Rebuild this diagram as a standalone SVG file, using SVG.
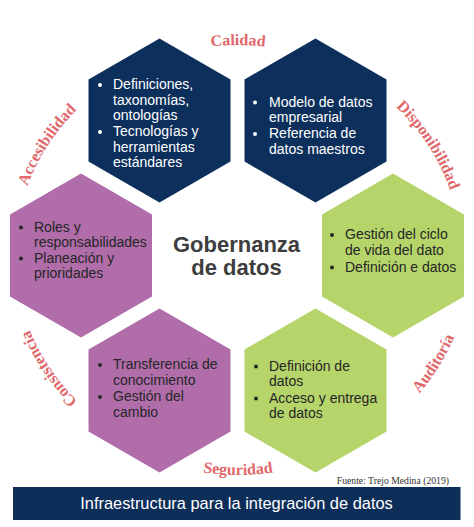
<svg xmlns="http://www.w3.org/2000/svg" xmlns:xlink="http://www.w3.org/1999/xlink" width="474" height="527" viewBox="0 0 474 527">
<style>
.navy{fill:#0C2F5C}
.purple{fill:#B06DAA}
.green{fill:#B5D46A}
.t{font-family:"Liberation Sans",Arial,sans-serif;font-size:14px}
.tw{fill:#FFFFFF}
.td{fill:#262626}
.arc{font-family:"Liberation Serif","Times New Roman",serif;font-size:16px;font-weight:bold;fill:#E0676A}
.title{font-family:"Liberation Sans",Arial,sans-serif;font-size:22px;font-weight:bold;fill:#3D3D3D}
</style>
<defs>
<polygon id="hex" points="0,-82 71,-41 71,41 0,82 -71,41 -71,-41"/>
<path id="pCal" d="M110.1,83 A223,210 0 0 1 365.9,83" fill="none"/>
<path id="pAcc" d="M15.5,269.7 A223,210 0 0 1 147.3,63.2" fill="none"/>
<path id="pDis" d="M328.7,63.2 A223,210 0 0 1 460.5,269.7" fill="none"/>
<path id="pCon" d="M150.9,448.3 A223,210 0 0 1 15.3,244" fill="none"/>
<path id="pSeg" d="M104.4,435.2 A233,220 0 0 0 371.6,435.2" fill="none"/>
<path id="pAud" d="M336.5,454.4 A233,220 0 0 0 470.1,235.8" fill="none"/>
</defs>
<rect width="474" height="527" fill="#FFFFFF"/>

<g id="labels">
<text class="arc"><textPath xlink:href="#pCal" href="#pCal" startOffset="50%" text-anchor="middle">Calidad</textPath></text>
<text class="arc"><textPath xlink:href="#pAcc" href="#pAcc" startOffset="50%" text-anchor="middle">Accesibilidad</textPath></text>
<text class="arc"><textPath xlink:href="#pDis" href="#pDis" startOffset="50%" text-anchor="middle">Disponibilidad</textPath></text>
<text class="arc"><textPath xlink:href="#pCon" href="#pCon" startOffset="50%" text-anchor="middle">Consistencia</textPath></text>
<text class="arc"><textPath xlink:href="#pSeg" href="#pSeg" startOffset="50%" text-anchor="middle">Seguridad</textPath></text>
<text class="arc"><textPath xlink:href="#pAud" href="#pAud" startOffset="50%" text-anchor="middle">Auditoría</textPath></text>
</g>

<g id="hex-top-left">
<use href="#hex" xlink:href="#hex" class="navy" x="159.5" y="120.5"/>
<circle cx="100" cy="85" r="2" fill="#FFFFFF"/>
<circle cx="100" cy="132" r="2" fill="#FFFFFF"/>
<text class="t tw" x="113" y="89">Definiciones,</text>
<text class="t tw" x="113" y="104.5">taxonomías,</text>
<text class="t tw" x="113" y="120">ontologías</text>
<text class="t tw" x="113" y="136">Tecnologías y</text>
<text class="t tw" x="113" y="151.5">herramientas</text>
<text class="t tw" x="113" y="167">estándares</text>
</g>

<g id="hex-top-right">
<use href="#hex" xlink:href="#hex" class="navy" x="315.5" y="120.5"/>
<circle cx="255" cy="102.5" r="2" fill="#FFFFFF"/>
<circle cx="255" cy="134" r="2" fill="#FFFFFF"/>
<text class="t tw" x="269" y="106.5">Modelo de datos</text>
<text class="t tw" x="269" y="122">empresarial</text>
<text class="t tw" x="269" y="138">Referencia de</text>
<text class="t tw" x="269" y="153.5">datos maestros</text>
</g>

<g id="hex-left">
<use href="#hex" xlink:href="#hex" class="purple" x="81" y="255.5"/>
<circle cx="21" cy="227.5" r="2" fill="#262626"/>
<circle cx="21" cy="258.5" r="2" fill="#262626"/>
<text class="t td" x="34" y="231.5">Roles y</text>
<text class="t td" x="34" y="247">responsabilidades</text>
<text class="t td" x="34" y="262.5">Planeación y</text>
<text class="t td" x="34" y="278">prioridades</text>
</g>

<g id="hex-right">
<use href="#hex" xlink:href="#hex" class="green" x="393" y="255.5"/>
<circle cx="332" cy="235" r="2" fill="#262626"/>
<circle cx="332" cy="267.5" r="2" fill="#262626"/>
<text class="t td" x="345" y="239">Gestión del ciclo</text>
<text class="t td" x="345" y="255">de vida del dato</text>
<text class="t td" x="345" y="271.5">Definición e datos</text>
</g>

<g id="hex-bottom-left">
<use href="#hex" xlink:href="#hex" class="purple" x="159.5" y="390.5"/>
<circle cx="100" cy="365" r="2" fill="#262626"/>
<circle cx="100" cy="397" r="2" fill="#262626"/>
<text class="t td" x="113" y="369">Transferencia de</text>
<text class="t td" x="113" y="385">conocimiento</text>
<text class="t td" x="113" y="401">Gestión del</text>
<text class="t td" x="113" y="416.5">cambio</text>
</g>

<g id="hex-bottom-right">
<use href="#hex" xlink:href="#hex" class="green" x="315.5" y="390.5"/>
<circle cx="256" cy="366.5" r="2" fill="#262626"/>
<circle cx="256" cy="398.5" r="2" fill="#262626"/>
<text class="t td" x="269" y="370.5">Definición de</text>
<text class="t td" x="269" y="386">datos</text>
<text class="t td" x="269" y="402.5">Acceso y entrega</text>
<text class="t td" x="269" y="418">de datos</text>
</g>

<g id="center">
<text class="title" x="236.5" y="252" text-anchor="middle">Gobernanza</text>
<text class="title" x="236.5" y="275" text-anchor="middle">de datos</text>
</g>

<g id="source">
<text x="449" y="483.5" text-anchor="end" font-family="Liberation Serif,'Times New Roman',serif" font-size="9.7" fill="#333333">Fuente: Trejo Medina (2019)</text>
</g>

<g id="banner">
<rect x="13" y="487" width="447.5" height="33" fill="#0E2E5A"/>
<text x="236.5" y="508.5" text-anchor="middle" font-family="Liberation Sans,Arial,sans-serif" font-size="16.4" fill="#FFFFFF">Infraestructura para la integración de datos</text>
</g>

<g id="connectors"></g>
</svg>
